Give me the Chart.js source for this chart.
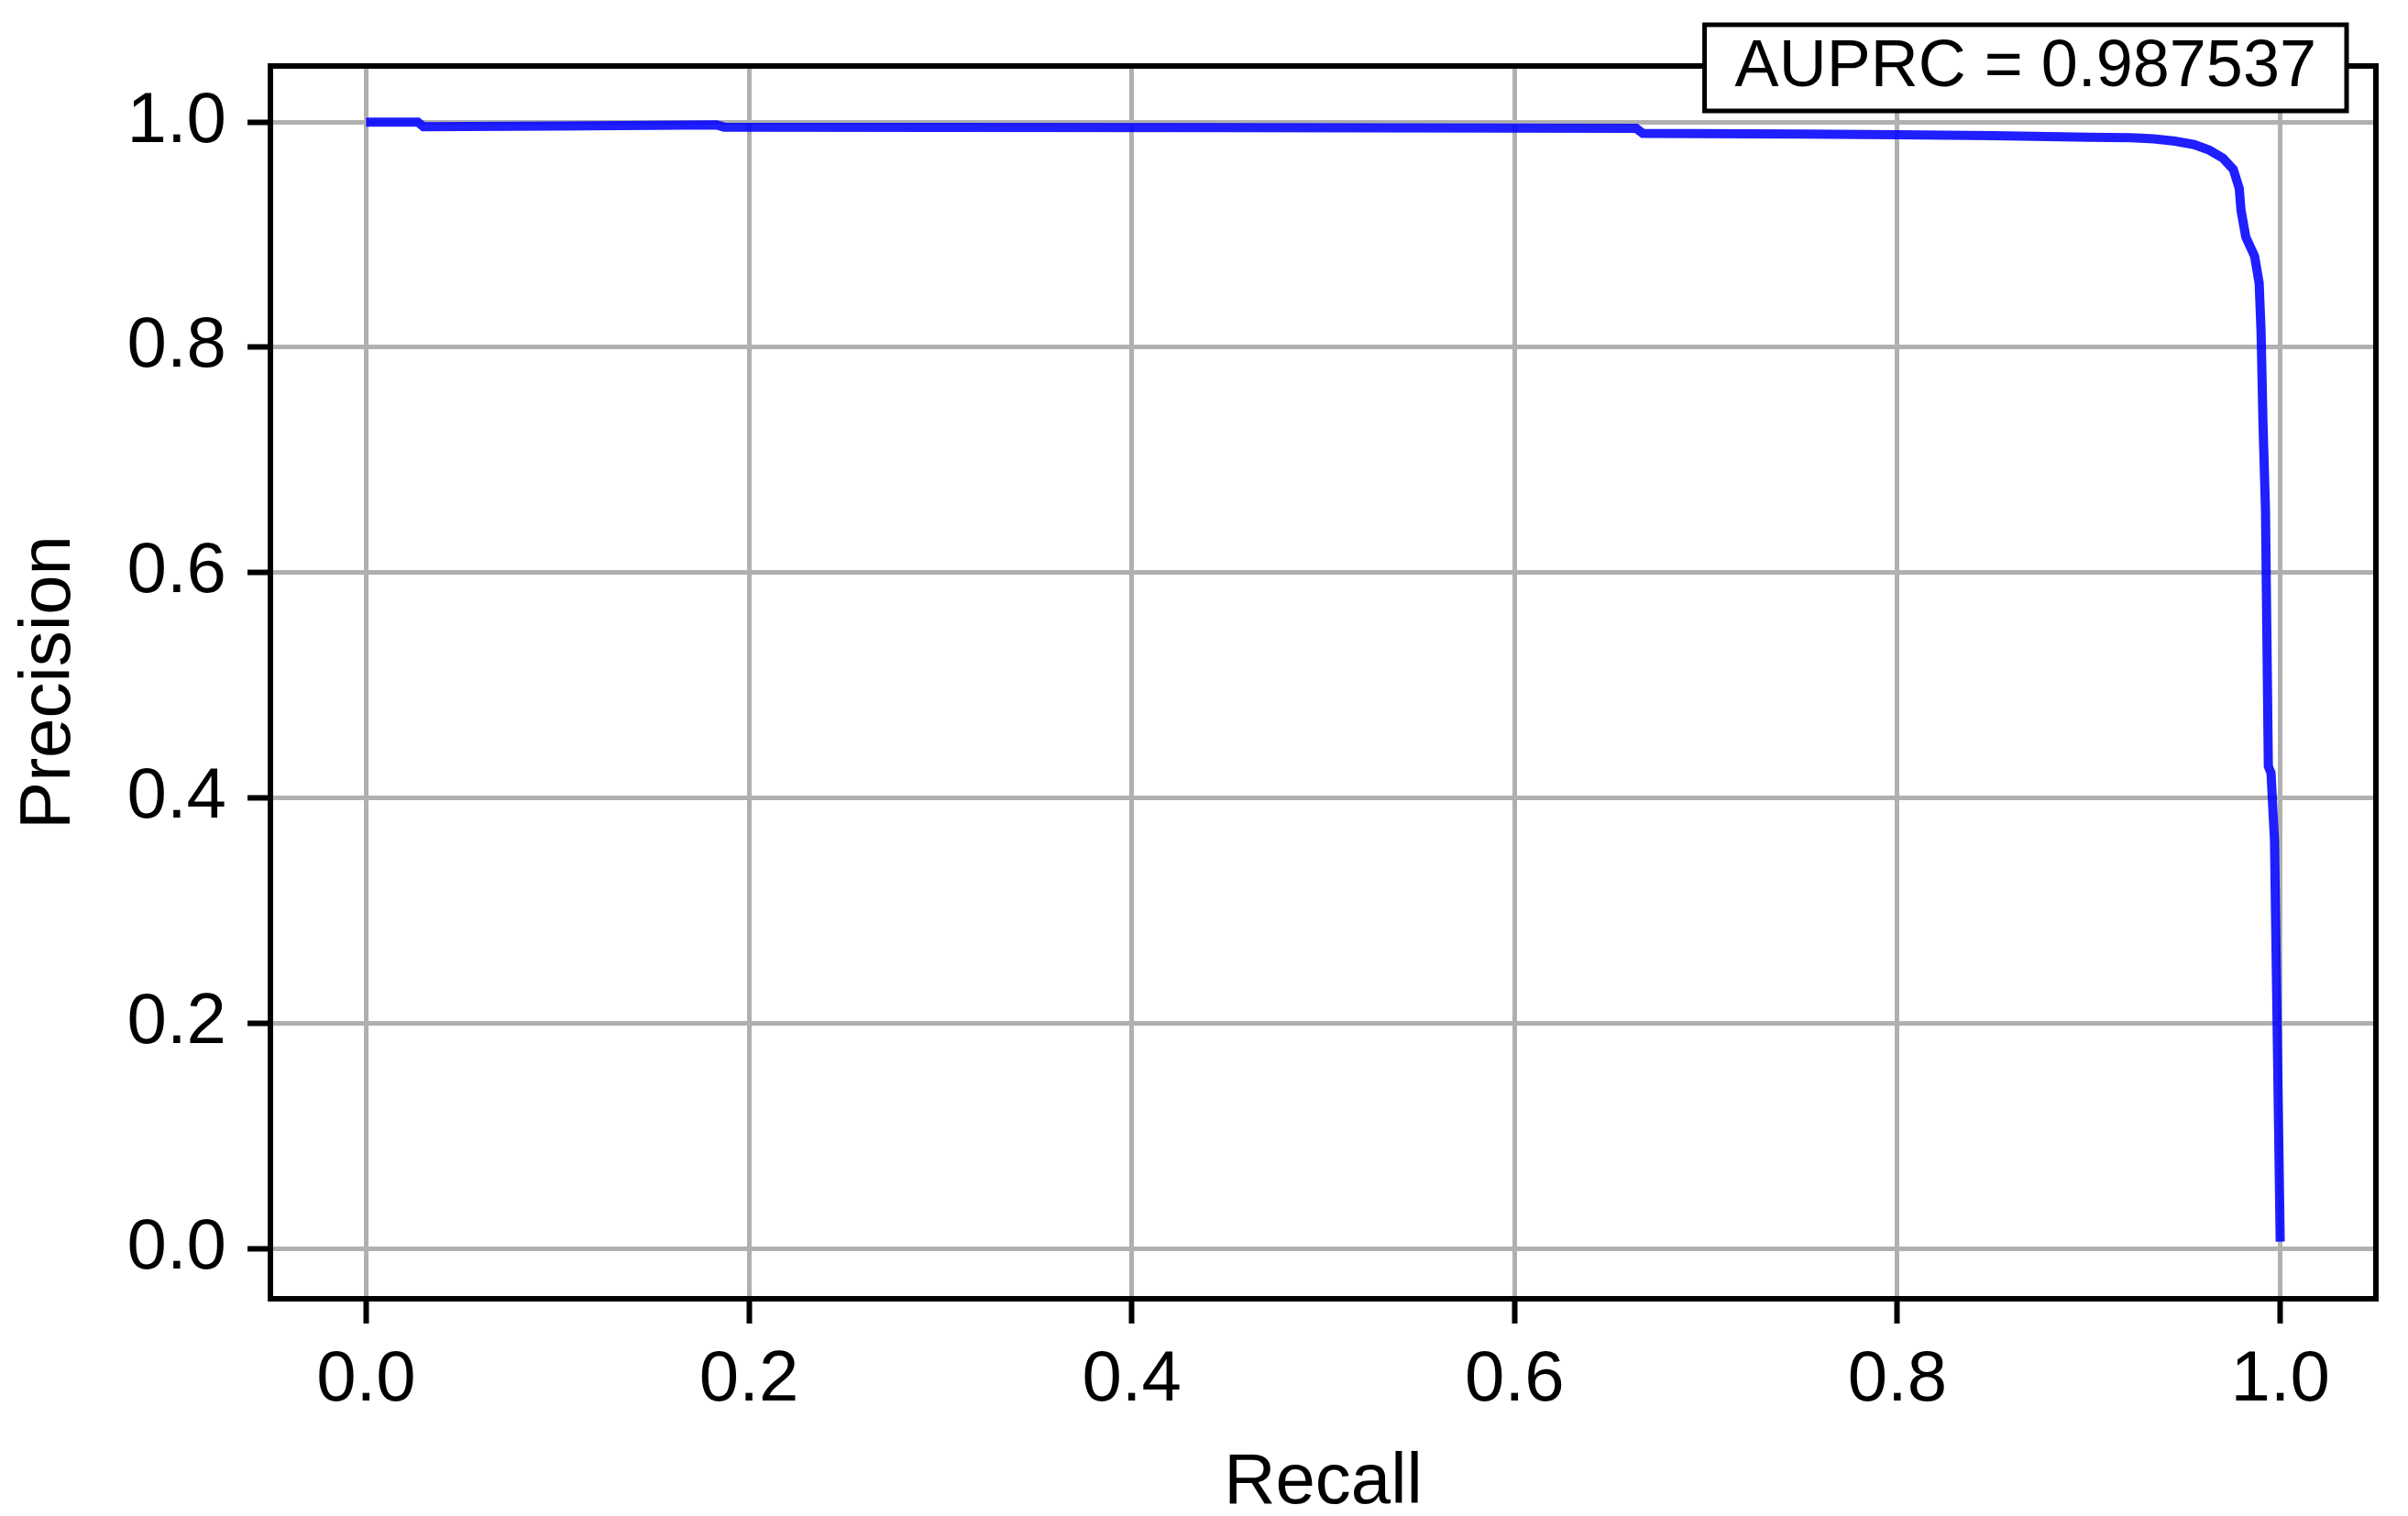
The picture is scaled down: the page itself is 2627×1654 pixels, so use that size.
<!DOCTYPE html>
<html>
<head>
<meta charset="utf-8">
<script src="https://cdn.jsdelivr.net/npm/chart.js@4.4.1/dist/chart.umd.min.js"></script>
<style>
  html, body { margin: 0; padding: 0; background: #fff; }
  #wrap { width: 2627px; height: 1654px; position: relative; }
</style>
</head>
<body>
<div id="wrap"><canvas id="pr-curve"></canvas></div>
<script>
// precision-recall curve
const recall = [
    0, 0.027, 0.030, 0.10, 0.183, 0.187, 0.30, 0.45, 0.6635, 0.667,
    0.75, 0.80, 0.85, 0.90, 0.922, 0.934, 0.945, 0.955, 0.963, 0.970,
    0.9755, 0.9786, 0.9795, 0.982, 0.9866, 0.989, 0.990, 0.991, 0.9923, 0.9938,
    0.9952, 0.997, 1.0
];
const precision = [
    1.0, 1.0, 0.9958, 0.9965, 0.9975, 0.9955, 0.9952, 0.995, 0.9945, 0.990,
    0.9893, 0.9888, 0.988, 0.9865, 0.986, 0.985, 0.983, 0.980, 0.975, 0.968,
    0.958, 0.941, 0.922, 0.898, 0.881, 0.857, 0.814, 0.733, 0.656, 0.428,
    0.422, 0.3625, 0.006
];
const xTicks = [0, 0.2, 0.4, 0.6, 0.8, 1.0];
const yTicks = [0, 0.2, 0.4, 0.6, 0.8, 1.0];
const auprc = 0.987537;

const FONT = '"Liberation Sans", Arial, Helvetica, sans-serif';

const frameAndNote = {
    id: 'frameAndNote',
    afterDraw(chart) {
        const { ctx, chartArea: a } = chart;
        ctx.save();
        ctx.strokeStyle = '#000';
        ctx.lineWidth = 6;
        ctx.strokeRect(a.left, a.top, a.right - a.left, a.bottom - a.top);

        // AUPRC text box, upper right
        const label = 'AUPRC = ' + auprc.toFixed(6);
        ctx.font = '72px ' + FONT;
        const w = ctx.measureText(label).width;
        const right = 2560, top = 27, h = 94, padX = 33;
        const left = right - w - padX * 2;
        ctx.fillStyle = '#fff';
        ctx.fillRect(left, top, right - left, h);
        ctx.lineWidth = 5;
        ctx.strokeRect(left, top, right - left, h);
        ctx.fillStyle = '#000';
        ctx.textBaseline = 'alphabetic';
        ctx.textAlign = 'left';
        ctx.fillText(label, left + padX, 94);
        ctx.restore();
    }
};

const points = recall.map((r, i) => ({ x: r, y: precision[i] }));

new Chart(document.getElementById('pr-curve').getContext('2d'), {
    type: 'line',
    data: {
        datasets: [{
            data: points,
            borderColor: 'rgba(0, 0, 255, 0.88)',
            borderWidth: 10,
            pointRadius: 0,
            tension: 0,
            fill: false,
        }]
    },
    options: {
        responsive: true,
        maintainAspectRatio: false,
        animation: false,
        devicePixelRatio: 1,
        layout: { padding: { top: 72, right: 35, left: 0, bottom: 0 } },
        plugins: {
            legend: { display: false },
            tooltip: { enabled: false },
        },
        scales: {
            x: {
                type: 'linear',
                min: -0.05,
                max: 1.05,
                afterBuildTicks: s => { s.ticks = xTicks.map(v => ({ value: v })); },
                afterFit: s => { s.height = 237; },
                ticks: {
                    color: '#000',
                    font: { family: FONT, size: 78 },
                    padding: 16,
                    maxRotation: 0,
                    callback: v => Number(v).toFixed(1),
                },
                grid: {
                    color: '#b0b0b0',
                    lineWidth: 5,
                    tickColor: '#000',
                    tickWidth: 6,
                    tickLength: 27,
                },
                border: { display: false },
                title: {
                    display: true,
                    text: 'Recall',
                    color: '#000',
                    font: { family: FONT, size: 78 },
                    padding: { top: 0, bottom: -11 },
                },
            },
            y: {
                type: 'linear',
                min: -0.04475,
                max: 1.04975,
                afterBuildTicks: s => { s.ticks = yTicks.map(v => ({ value: v })); },
                afterFit: s => { s.width = 295; },
                ticks: {
                    color: '#000',
                    font: { family: FONT, size: 78 },
                    padding: 23,
                    callback: v => Number(v).toFixed(1),
                },
                grid: {
                    color: '#b0b0b0',
                    lineWidth: 5,
                    tickColor: '#000',
                    tickWidth: 6,
                    tickLength: 25,
                },
                border: { display: false },
                title: {
                    display: true,
                    text: 'Precision',
                    color: '#000',
                    font: { family: FONT, size: 78 },
                    padding: { top: 8, bottom: 0 },
                },
            },
        },
    },
    plugins: [frameAndNote],
});
</script>
</body>
</html>
